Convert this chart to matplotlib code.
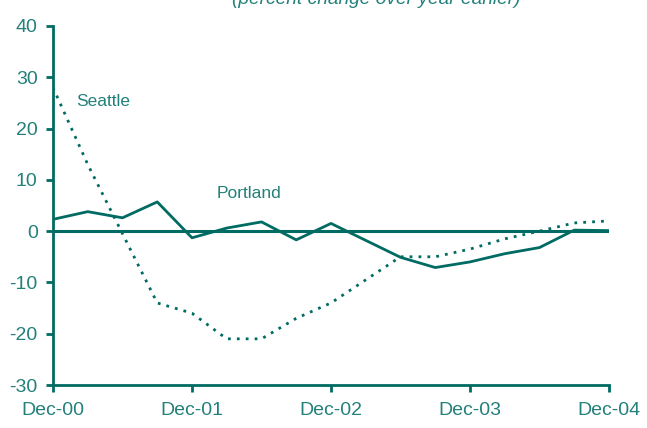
import matplotlib
matplotlib.use("Agg")
import matplotlib.pyplot as plt

plt.rcParams["axes.unicode_minus"] = False

quarters = list(range(17))
xtick_pos = [0, 4, 8, 12, 16]
xtick_labels = ["Dec-00", "Dec-01", "Dec-02", "Dec-03", "Dec-04"]
yticks = [-30, -20, -10, 0, 10, 20, 30, 40]

portland = [2.3, 3.8, 2.6, 5.7, -1.3, 0.6, 1.8, -1.7, 1.5, -1.8, -5.1, -7.1, -6.0, -4.4, -3.2, 0.2, 0.1]
seattle = [28.0, 13.0, -0.5, -14.0, -16.0, -21.0, -21.0, -17.0, -14.0, -9.5, -5.0, -5.0, -3.5, -1.5, 0.0, 1.6, 2.0]

line_color = "#006b62"
text_color = "#23807a"
font = "Liberation Sans"
narrow = ["Liberation Sans Narrow", "Liberation Sans"]

fig = plt.figure(figsize=(6.47, 4.28), dpi=100)
ax = fig.add_axes([53/647, 43/428, (609-53)/647, (385-26)/428])

ax.plot(quarters, seattle, color=line_color, lw=2.0, linestyle=(0, (1, 2.2)))
ax.plot(quarters, portland, color=line_color, lw=2.0)
ax.axhline(0, color=line_color, lw=2.2, zorder=1)

ax.set_xlim(0, 16)
ax.set_ylim(-30, 40)
ax.set_xticks(xtick_pos)
ax.set_xticklabels(xtick_labels)
ax.set_yticks(yticks)

for s in ["top", "right"]:
    ax.spines[s].set_visible(False)
for s in ["left", "bottom"]:
    ax.spines[s].set_color(line_color)
    ax.spines[s].set_linewidth(2.0)

ax.tick_params(axis="both", colors=line_color, width=2.0, length=5,
               labelcolor=text_color, labelsize=14)
ax.tick_params(axis="y", pad=6)
ax.tick_params(axis="x", pad=7)
for lab in ax.get_xticklabels() + ax.get_yticklabels():
    lab.set_fontfamily(narrow)

ax.text(0.68, 25.3, "Seattle", color=text_color, fontsize=12.5, family=font,
        va="center", ha="left")
ax.text(4.7, 7.4, "Portland", color=text_color, fontsize=12.5, family=font,
        va="center", ha="left")

fig.text(376/647, 1 - 4/428, "(percent change over year earlier)", color=text_color,
         fontsize=13.8, family=font, style="italic", ha="center", va="baseline")

fig.savefig("out.png", dpi=100)
